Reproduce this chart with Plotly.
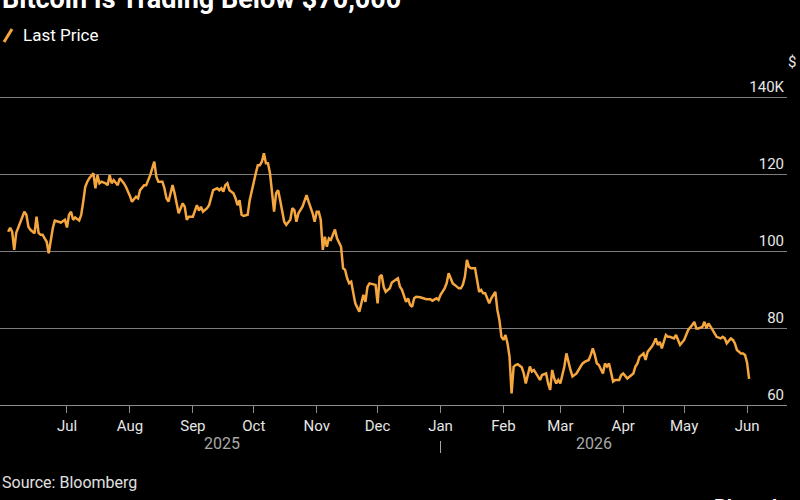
import plotly.graph_objects as go
import pandas as pd

# ---- data ----
dates = [
    "2025-06-02","2025-06-03","2025-06-04","2025-06-05","2025-06-06","2025-06-07","2025-06-08",
    "2025-06-10","2025-06-11","2025-06-12","2025-06-13","2025-06-14","2025-06-15","2025-06-16",
    "2025-06-17","2025-06-18","2025-06-19","2025-06-20","2025-06-21","2025-06-22","2025-06-23",
    "2025-06-24","2025-06-25","2025-06-27","2025-06-28","2025-06-30","2025-07-01","2025-07-02",
    "2025-07-03","2025-07-04","2025-07-05","2025-07-07","2025-07-08","2025-07-09","2025-07-10",
    "2025-07-11","2025-07-12","2025-07-14","2025-07-15","2025-07-16","2025-07-17","2025-07-18",
    "2025-07-20","2025-07-21","2025-07-22","2025-07-23","2025-07-24","2025-07-26","2025-07-27",
    "2025-07-29","2025-07-30","2025-08-01","2025-08-02","2025-08-04","2025-08-05","2025-08-06",
    "2025-08-08","2025-08-09","2025-08-10","2025-08-11","2025-08-13","2025-08-14","2025-08-15",
    "2025-08-17","2025-08-18","2025-08-19","2025-08-20","2025-08-22","2025-08-23","2025-08-24",
    "2025-08-25","2025-08-27","2025-08-28","2025-08-29","2025-08-30","2025-09-01","2025-09-02",
    "2025-09-03","2025-09-04","2025-09-05","2025-09-06","2025-09-08","2025-09-09","2025-09-10",
    "2025-09-11","2025-09-13","2025-09-14","2025-09-15","2025-09-16","2025-09-17","2025-09-18",
    "2025-09-19","2025-09-21","2025-09-22","2025-09-23","2025-09-24","2025-09-25","2025-09-26",
    "2025-09-28","2025-09-29","2025-09-30","2025-10-02","2025-10-03","2025-10-04","2025-10-05",
    "2025-10-06","2025-10-07","2025-10-08","2025-10-09","2025-10-10","2025-10-11","2025-10-12",
    "2025-10-13","2025-10-14","2025-10-15","2025-10-16","2025-10-17","2025-10-19","2025-10-20",
    "2025-10-21","2025-10-22","2025-10-23","2025-10-25","2025-10-26","2025-10-27","2025-10-28",
    "2025-10-30","2025-10-31","2025-11-01","2025-11-02","2025-11-03","2025-11-04","2025-11-05",
    "2025-11-06","2025-11-07","2025-11-08","2025-11-09","2025-11-10","2025-11-11","2025-11-13",
    "2025-11-14","2025-11-15","2025-11-16","2025-11-17","2025-11-18","2025-11-19","2025-11-20",
    "2025-11-22","2025-11-23","2025-11-24","2025-11-25","2025-11-26","2025-11-27","2025-11-29",
    "2025-11-30","2025-12-01","2025-12-02","2025-12-03","2025-12-04","2025-12-05","2025-12-07",
    "2025-12-08","2025-12-10","2025-12-11","2025-12-12","2025-12-13","2025-12-15","2025-12-16",
    "2025-12-17","2025-12-18","2025-12-19","2025-12-20","2025-12-22","2025-12-24","2025-12-25",
    "2025-12-27","2025-12-28","2025-12-30","2025-12-31","2026-01-01","2026-01-03","2026-01-04",
    "2026-01-05","2026-01-06","2026-01-07","2026-01-08","2026-01-10","2026-01-11","2026-01-12",
    "2026-01-13","2026-01-14","2026-01-15","2026-01-16","2026-01-17","2026-01-18","2026-01-19",
    "2026-01-20","2026-01-21","2026-01-22","2026-01-23","2026-01-25","2026-01-26","2026-01-27",
    "2026-01-28","2026-01-29","2026-01-30","2026-01-31","2026-02-01","2026-02-02","2026-02-03",
    "2026-02-04","2026-02-05","2026-02-06","2026-02-07","2026-02-08","2026-02-10","2026-02-11",
    "2026-02-12","2026-02-14","2026-02-15","2026-02-16","2026-02-18","2026-02-19","2026-02-20",
    "2026-02-22","2026-02-23","2026-02-24","2026-02-25","2026-02-26","2026-02-27","2026-02-28",
    "2026-03-01","2026-03-03","2026-03-04","2026-03-05","2026-03-06","2026-03-07","2026-03-09",
    "2026-03-11","2026-03-12","2026-03-13","2026-03-15","2026-03-16","2026-03-17","2026-03-18",
    "2026-03-19","2026-03-20","2026-03-22","2026-03-23","2026-03-24","2026-03-25","2026-03-26",
    "2026-03-27","2026-03-28","2026-03-30","2026-03-31","2026-04-01","2026-04-03","2026-04-04",
    "2026-04-06","2026-04-07","2026-04-08","2026-04-09","2026-04-11","2026-04-12","2026-04-13",
    "2026-04-15","2026-04-16","2026-04-17","2026-04-18","2026-04-19","2026-04-20","2026-04-22",
    "2026-04-23","2026-04-24","2026-04-26","2026-04-27","2026-04-28","2026-04-29","2026-05-01",
    "2026-05-02","2026-05-03","2026-05-05","2026-05-06","2026-05-07","2026-05-08","2026-05-10",
    "2026-05-11","2026-05-12","2026-05-13","2026-05-15","2026-05-16","2026-05-17","2026-05-19",
    "2026-05-20","2026-05-21","2026-05-22","2026-05-24","2026-05-25","2026-05-26","2026-05-27",
    "2026-05-29","2026-05-30","2026-05-31","2026-06-01","2026-06-02",
]
prices_k = [
    105.0,106.0,105.0,100.3,104.7,106.0,107.3,
    110.2,109.4,106.3,105.5,105.0,104.6,108.9,
    104.7,104.2,104.2,103.3,102.4,99.4,102.9,
    105.9,107.9,107.6,107.4,108.1,106.1,109.4,
    110.2,108.1,108.7,107.9,109.4,112.8,116.7,
    118.0,118.9,120.2,116.3,119.7,117.6,118.0,
    117.6,117.1,119.7,117.6,118.4,117.1,118.9,
    117.6,116.7,114.3,112.8,114.1,113.7,115.8,
    117.1,117.1,118.4,119.7,123.2,119.3,118.0,
    118.0,116.3,113.7,112.8,117.1,115.0,111.9,
    109.8,112.4,111.5,108.1,108.9,108.9,110.6,
    111.9,110.5,111.5,110.2,111.1,111.9,113.7,
    115.8,116.3,115.8,116.3,115.4,117.1,117.6,
    115.8,115.0,113.7,111.9,113.2,109.4,109.1,
    109.4,113.2,115.8,120.2,122.3,122.3,123.2,
    125.4,122.8,122.8,120.2,115.8,110.2,115.0,
    115.8,113.2,110.2,107.6,106.8,108.1,111.1,
    110.6,107.6,109.8,111.5,113.2,114.5,112.8,
    109.8,107.6,110.2,110.2,108.1,100.3,103.7,
    101.1,103.3,102.9,104.2,105.6,103.3,101.1,
    95.5,95.1,92.9,91.6,92.0,89.0,86.4,
    84.2,86.4,88.6,86.8,90.7,91.6,91.2,
    91.2,86.4,93.3,93.8,90.7,89.4,90.3,
    91.8,92.6,92.9,90.7,89.9,86.8,87.7,
    86.0,85.5,87.7,88.1,88.0,87.7,87.5,
    87.5,87.1,87.7,87.3,88.6,90.3,91.6,
    94.2,92.9,91.6,91.2,90.3,90.3,91.2,
    93.3,97.7,95.9,95.5,95.5,95.5,92.5,
    89.4,89.9,89.0,89.0,86.4,87.7,88.6,
    89.4,84.7,82.1,77.7,76.9,78.2,76.0,
    72.5,63.0,69.9,70.4,70.6,69.8,68.2,
    65.6,70.0,68.7,69.1,67.4,66.5,67.8,
    68.2,65.6,63.9,69.1,66.9,65.6,66.5,
    65.6,70.0,73.4,70.8,69.1,67.4,68.2,
    70.0,70.8,71.2,71.7,73.0,74.7,73.0,
    70.8,70.4,68.2,70.8,70.0,70.8,68.2,
    66.1,66.5,66.5,67.8,68.2,66.9,67.4,
    68.2,70.0,70.8,72.5,73.4,71.7,73.8,
    75.1,76.0,77.3,75.6,76.4,74.7,78.2,
    77.7,77.7,77.3,78.2,76.9,75.6,76.9,
    78.2,79.5,80.8,81.6,79.9,79.9,80.3,
    81.6,79.9,81.2,79.5,78.6,77.7,77.3,
    77.7,77.3,76.0,77.3,76.9,76.0,74.3,
    73.4,73.4,73.0,71.0,66.8,
]

month_ticks = ["2025-07-01","2025-08-01","2025-09-01","2025-10-01","2025-11-01","2025-12-01",
               "2026-01-01","2026-02-01","2026-03-01","2026-04-01","2026-05-01","2026-06-01"]
month_labels = ["Jul","Aug","Sep","Oct","Nov","Dec","Jan","Feb","Mar","Apr","May","Jun"]
years = ["2025", "2026"]
year_spans = [("2025-07-01", "2025-12-01"), ("2026-01-01", "2026-06-01")]
y_ticks = [60, 80, 100, 120, 140]
y_labels = ["60", "80", "100", "120", "140K"]

title = "Bitcoin Is Trading Below $70,000"
series_name = "Last Price"
source = "Source: Bloomberg"

# ---- styling ----
ORANGE = "rgb(246,166,62)"
FONT = "Roboto"
W, H = 800, 500
M_L, M_R, M_T, M_B = 0, 13, 72, 95
PH = H - M_T - M_B
PW = W - M_L - M_R
PX_PER_K = 3.85
Y_MIN = 60
Y_MAX = Y_MIN + PH / PX_PER_K

def py(ypx):
    return (H - M_B - ypx) / PH

def px(xpx):
    return (xpx - M_L) / PW

def mid(a, b):
    ta, tb = pd.Timestamp(a), pd.Timestamp(b)
    return (ta + (tb - ta) / 2).strftime("%Y-%m-%d %H:%M")

fig = go.Figure()
fig.add_trace(go.Scatter(
    x=dates, y=prices_k, mode="lines", name=series_name,
    line=dict(color=ORANGE, width=2.5), showlegend=False,
))

annotations = [
    dict(text=f"<b>{title}</b>", x=0, xref="paper", xanchor="left",
         y=py(17), yref="paper", yanchor="bottom", showarrow=False,
         font=dict(family=FONT, size=27, color="white")),
    dict(text=series_name, x=px(21), xref="paper", xanchor="left",
         y=py(35), yref="paper", yanchor="middle", showarrow=False,
         font=dict(family=FONT, size=17, color="white")),
    dict(text="$", x=px(798), xref="paper", xanchor="right",
         y=py(62), yref="paper", yanchor="middle", showarrow=False,
         font=dict(family=FONT, size=15, color="#e6e6e6")),
    dict(text=source, x=0, xref="paper", xanchor="left",
         y=py(482), yref="paper", yanchor="middle", showarrow=False,
         font=dict(family=FONT, size=16, color="#e0e0e0")),
    dict(text="<b>Bloomberg</b>", x=px(712), xref="paper", xanchor="left",
         y=py(493), yref="paper", yanchor="top", showarrow=False,
         font=dict(family=FONT, size=20, color="white")),
]
for yr, (a, b) in zip(years, year_spans):
    annotations.append(dict(text=yr, x=mid(a, b), xref="x", xanchor="center",
                            y=py(443), yref="paper", yanchor="middle", showarrow=False,
                            font=dict(family=FONT, size=16, color="#a8a8a8")))

shapes = [
    # legend slash
    dict(type="line", xref="paper", yref="paper", x0=px(4), x1=px(12), y0=py(42), y1=py(29),
         line=dict(color=ORANGE, width=3)),
    # year separator under Jan
    dict(type="line", xref="x", yref="paper", x0=year_spans[1][0], x1=year_spans[1][0],
         y0=py(441), y1=py(453), line=dict(color="#a8a8a8", width=1)),
]

fig.update_layout(
    width=W, height=H,
    margin=dict(l=M_L, r=M_R, t=M_T, b=M_B),
    paper_bgcolor="black", plot_bgcolor="black",
    annotations=annotations, shapes=shapes,
    showlegend=False,
    xaxis=dict(
        type="date",
        range=["2025-05-29", "2026-06-20 16:00"],
        tickvals=month_ticks, ticktext=month_labels,
        showgrid=False, zeroline=False,
        showline=True, linecolor="#8c8c8c", linewidth=1,
        ticks="outside", ticklen=7, tickcolor="#8c8c8c", tickwidth=1,
        tickfont=dict(family=FONT, size=15, color="#e6e6e6"),
    ),
    yaxis=dict(
        side="right", range=[Y_MIN, Y_MAX],
        tickvals=y_ticks, ticktext=y_labels,
        ticklabelposition="inside top",
        showgrid=True, gridcolor="#7d7d7d", gridwidth=1,
        zeroline=False, showline=False, ticks="",
        tickfont=dict(family=FONT, size=15, color="#e6e6e6"),
    ),
)

fig.write_html("out.html")
